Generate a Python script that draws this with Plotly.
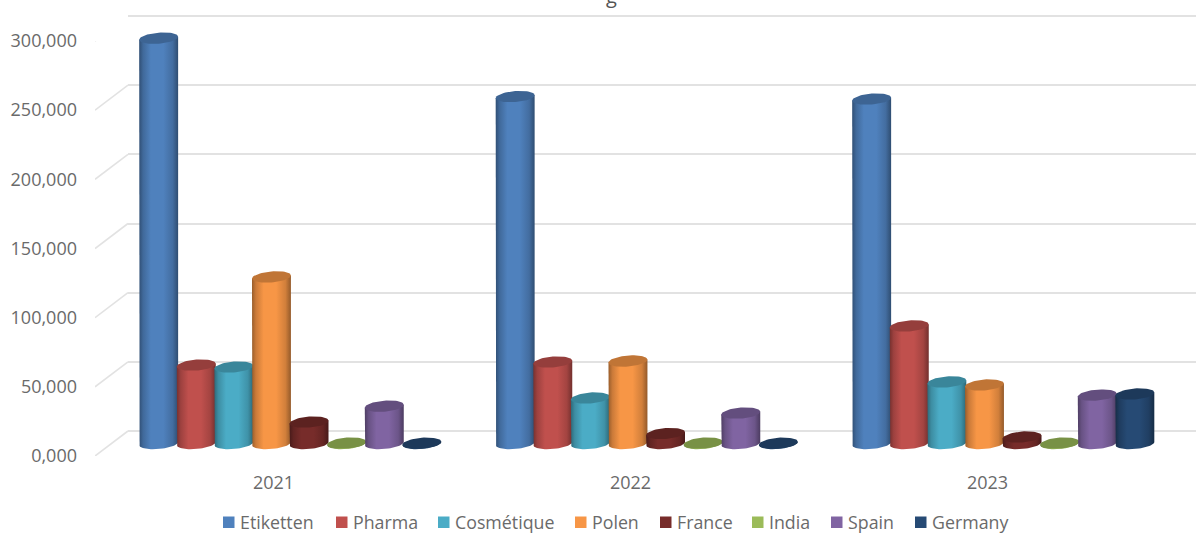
import numpy as np
import plotly.graph_objects as go

W, H = 1196, 534
years = ["2021", "2022", "2023"]
series_names = ["Etiketten", "Pharma", "Cosmétique", "Polen", "France", "India", "Spain", "Germany"]
etiketten = [293000, 250800, 249000]
pharma = [56700, 58900, 85000]
cosmetique = [55300, 32900, 44500]
polen = [120400, 59600, 42300]
france = [15500, 7200, 4700]
india = [300, 300, 300]
spain = [27000, 22000, 35000]
germany = [200, 200, 35800]
series_values = [etiketten, pharma, cosmetique, polen, france, india, spain, germany]
colors = ["#4f81bd", "#c0504d", "#4bacc6", "#f79646", "#772c2a", "#9bbb59", "#8064a2", "#264a74"]
tick_values = [0, 50000, 100000, 150000, 200000, 250000, 300000]
tick_labels = ["0,000", "50,000", "100,000", "150,000", "200,000", "250,000", "300,000"]
legend_swatch_px = [223, 336, 438, 575, 660, 752, 831, 915]

TEXT = "#6a6a6a"
PX_PER_UNIT = 415 / 300000
CAT_PX = 357
PAD = 20000  # value-axis slack below/above the scale so nothing on it is clipped
PAD_PX = PAD * PX_PER_UNIT


def dx(p):
    return [p[0] / W, min(p[1] / W, 1)]


def dy(bottom, top):
    return [(H - bottom) / H, (H - top) / H]


def shade(hex_color, k):
    r, g, b = (int(hex_color[i:i + 2], 16) for i in (1, 3, 5))
    return f"rgb({int(r * k)},{int(g * k)},{int(b * k)})"


HALF_W = 19.5 / CAT_PX
STEP = 37.65 / CAT_PX
ELL_B = 5.5 / PX_PER_UNIT
TILT = 1.5 / PX_PER_UNIT

fig = go.Figure()

# receding edges that join the front axis to the wall gridlines
fig.add_trace(go.Scatter(
    x=[v for t in tick_values for v in (-0.5, -0.5 + 33 / CAT_PX, None)],
    y=[v for t in tick_values for v in (t, t + 25 / PX_PER_UNIT, None)],
    xaxis="x", yaxis="y", mode="lines", cliponaxis=False,
    line=dict(color="#e2e2e2", width=1.6), hoverinfo="skip", showlegend=False,
))
# keeps the wall axes and the legend layer alive
fig.add_trace(go.Scatter(x=[0], y=[0], xaxis="x2", yaxis="y2", mode="markers",
                         marker=dict(opacity=0), hoverinfo="skip", showlegend=False))
fig.add_trace(go.Scatter(x=[0], y=[0], xaxis="x4", yaxis="y4", mode="markers",
                         marker=dict(opacity=0), hoverinfo="skip", showlegend=False))

t_low = np.linspace(np.pi, 2 * np.pi, 31)
t_all = np.linspace(0, 2 * np.pi, 61)
for i in range(len(years)):
    for j, name in enumerate(series_names):
        v = series_values[j][i]
        c = colors[j]
        cx = i + (j - 3.5) * STEP
        lo_x = cx + HALF_W * np.cos(t_low)
        lo_y = ELL_B * np.sin(t_low) + TILT * np.cos(t_low)
        top_l = (cx - HALF_W, v - TILT)
        top_r = (cx + HALF_W, v + TILT)
        xs = [top_l[0], *lo_x, top_r[0], top_l[0]]
        ys = [top_l[1], *lo_y, top_r[1], top_l[1]]
        fig.add_trace(go.Scatter(
            x=xs, y=ys, xaxis="x3", yaxis="y3", mode="lines", fill="toself",
            line=dict(width=0, color=c),
            fillgradient=dict(type="horizontal", colorscale=[
                [0, shade(c, 0.62)], [0.10, shade(c, 0.82)], [0.30, shade(c, 1.0)],
                [0.62, shade(c, 1.0)], [0.86, shade(c, 0.85)], [1, shade(c, 0.6)],
            ]),
            name=name, showlegend=False, hovertemplate=f"{name} {years[i]}: {v:,}<extra></extra>",
        ))
        fig.add_trace(go.Scatter(
            x=cx + HALF_W * np.cos(t_all),
            y=v + ELL_B * np.sin(t_all) + TILT * np.cos(t_all),
            xaxis="x3", yaxis="y3", mode="lines", fill="toself",
            fillcolor=shade(c, 0.78), line=dict(width=0, color=c),
            hoverinfo="skip", showlegend=False,
        ))

shapes = []
annotations = []
for px, name, c in zip(legend_swatch_px, series_names, colors):
    shapes.append(dict(type="rect", xref="x4", yref="y4", layer="above",
                       x0=px, x1=px + 11.5, y0=516.5, y1=528,
                       fillcolor=c, line=dict(width=0)))
    annotations.append(dict(text=name, xref="x4", yref="y4", x=px + 15, y=522,
                            xanchor="left", yanchor="middle", showarrow=False,
                            font=dict(family="Open Sans", size=17.8, color=TEXT)))
# descender of the cropped chart title at the very top of the picture
annotations.append(dict(text="g", xref="x4", yref="y4", x=611, y=10,
                        xanchor="center", yanchor="bottom", showarrow=False, borderpad=0,
                        font=dict(family="Open Sans", size=20, color="#555555")))

cat_range = [-0.5, 2.5]
hidden = dict(visible=False, fixedrange=True)
fig.update_layout(
    width=W, height=H, autosize=False,
    margin=dict(l=0, r=0, t=0, b=0, pad=0, autoexpand=False),
    paper_bgcolor="white", plot_bgcolor="rgba(0,0,0,0)",
    showlegend=False, shapes=shapes, annotations=annotations,
    font=dict(family="Open Sans", color=TEXT),
    # front plane: tick labels
    xaxis=dict(domain=dx((95, 1166)), range=cat_range, tickvals=[0, 1, 2], ticktext=years,
               showgrid=False, zeroline=False, showline=False, ticks="", anchor="y",
               tickfont=dict(size=18, color=TEXT), ticklabelstandoff=14, fixedrange=True),
    yaxis=dict(domain=dy(456, 41), range=[0, 300000], tickvals=tick_values, ticktext=tick_labels,
               showgrid=False, zeroline=False, showline=False, ticks="", anchor="x",
               tickfont=dict(size=18, color=TEXT), ticklabelstandoff=17, fixedrange=True),
    # back wall: gridlines
    xaxis2=dict(domain=dx((128, 1196)), range=cat_range, anchor="y2", **hidden),
    yaxis2=dict(domain=dy(431 + PAD_PX, 16 - 8), range=[-PAD, 300000 + 8 / PX_PER_UNIT], tickvals=tick_values,
                showgrid=True, gridcolor="#e2e2e2", gridwidth=1.6, zeroline=False, showline=False, ticks="",
                showticklabels=False, anchor="x2", fixedrange=True),
    # mid plane: cylinders
    xaxis3=dict(domain=dx((112, 1181.5)), range=cat_range, anchor="y3", **hidden),
    yaxis3=dict(domain=dy(443.5 + PAD_PX, 28.5), range=[-PAD, 300000], anchor="x3", **hidden),
    # whole page in pixels, for the legend
    xaxis4=dict(domain=[0, 1], range=[0, W], anchor="y4", **hidden),
    yaxis4=dict(domain=[0, 1], range=[H, 0], anchor="x4", **hidden),
)
fig.write_html("out.html", config=dict(displayModeBar=False),
               post_script="document.body.style.margin='0';document.documentElement.style.overflow='hidden';")
